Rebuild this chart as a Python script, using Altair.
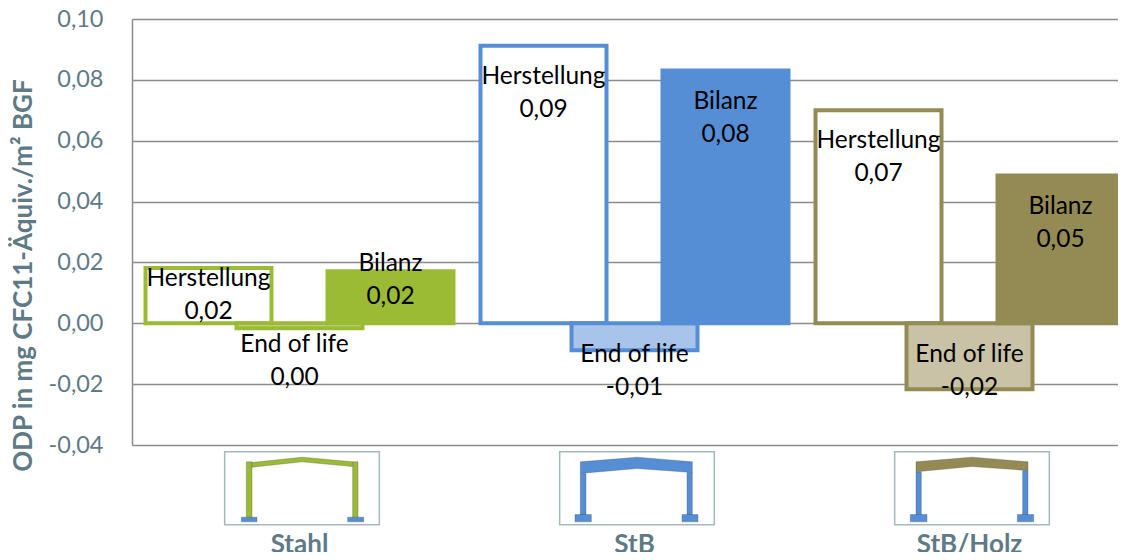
import altair as alt
import pandas as pd

groups = ["Stahl", "StB", "StB/Holz"]
series = ["Herstellung", "End of life", "Bilanz"]
stahl_values = [0.0182, -0.0016, 0.0171]
stb_values = [0.0912, -0.0089, 0.0831]
holz_values = [0.0700, -0.0217, 0.0486]
stahl_labels = ["0,02", "0,00", "0,02"]
stb_labels = ["0,09", "-0,01", "0,08"]
holz_labels = ["0,07", "-0,02", "0,05"]
y_ticks = [-0.04, -0.02, 0.0, 0.02, 0.04, 0.06, 0.08, 0.10]

strokes = ["#9BBB35", "#558ED5", "#948A54"]
fills = [["#FFFFFF", "#C3D69B", "#9BBB35"],
         ["#FFFFFF", "#A9C4EB", "#558ED5"],
         ["#FFFFFF", "#C9C2A6", "#948A54"]]
# offset of each label's first line from the end of its bar (px), per group and series
label_dy = [[11, 17, -7], [31, 5, 32], [31, -34, 32]]
label_dx = [[0, -5, 0], [0, 0, 0], [0, 0, 0]]

TEXT = "#5F7A87"
GRID = "#8C8C8C"
FONT = "Lato"
STEP = 335.0
SLOT = 91 / STEP
HALF = 63 / STEP
W, H = 986, 426

rows = []
for g, (vals, labs) in enumerate(zip([stahl_values, stb_values, holz_values],
                                     [stahl_labels, stb_labels, holz_labels])):
    for s in range(3):
        c = g + 0.5 + (s - 1) * SLOT
        rows.append(dict(group=groups[g], series=series[s], value=vals[s],
                         x0=c - HALF, x1=c + HALF, cx=c,
                         label=series[s] + "\n" + labs[s],
                         fill=fills[g][s], stroke=strokes[g],
                         dy=label_dy[g][s], dx=label_dx[g][s]))
df = pd.DataFrame(rows)
df["zero"] = 0.0
cat = pd.DataFrame(dict(group=groups, cx=[i + 0.5 for i in range(3)]))

xs = alt.Scale(domain=[0, W / STEP], nice=False, zero=False)
ys = alt.Scale(domain=[-0.04, 0.10], nice=False, zero=False)

base_y = alt.Y("value:Q", scale=ys, axis=alt.Axis(
    values=y_ticks, grid=True, gridColor=GRID, gridWidth=1.5, ticks=False,
    domain=True, domainColor=GRID, domainWidth=1.5,
    labelExpr="replace(replace(format(datum.value,'.2f'),'.',','),'\u2212','-')",
    labelFont=FONT, labelFontSize=23.5, labelColor=TEXT, labelPadding=29,
    title="ODP in mg CFC11-Äquiv./m² BGF", titleFont=FONT, titleFontSize=26,
    titleFontWeight="bold", titleColor=TEXT, titleX=-96, titleY=256,
    titleAlign="center", titleAnchor="middle"))

bars = alt.Chart(df).mark_rect(strokeWidth=4, clip=True).encode(
    x=alt.X("x0:Q", scale=xs, axis=None),
    x2="x1:Q",
    y=base_y,
    y2="zero:Q",
    fill=alt.Fill("fill:N", scale=None),
    stroke=alt.Stroke("stroke:N", scale=None),
)

layers = [bars]
for i in range(len(df)):
    r = df.iloc[i]
    layers.append(
        alt.Chart(df.iloc[[i]]).mark_text(
            font=FONT, fontSize=24.5, color="#000000", lineBreak="\n", lineHeight=33,
            baseline="middle", align="center", dy=int(r.dy), dx=int(r.dx)
        ).encode(
            x=alt.X("cx:Q", scale=xs, axis=None),
            y=alt.Y("value:Q", scale=ys),
            text="label:N",
        )
    )

SY = 469.5
BOX = "M-232,-110H232V109H-232Z"
C_STAHL_COL = "M-167,-80H-150V87H-167ZM152,-80H168V87H152Z"
C_STAHL_BASE = "M-182,86H-135V100H-182ZM137,86H185V100H137Z"
C_STAHL_ROOF = "M-150,-78L0,-94L152,-80V-66L0,-80L-150,-64Z"
C_STB_COL = "M-170,-45H-153V80H-170ZM150,-48H166V80H150Z"
C_STB_ROOF = "M-170,-80L0,-94L166,-80V-48L0,-60L-170,-45Z"
C_STB_BASE = "M-186,78H-137V100H-186ZM135,78H183V100H135Z"
C_HOLZ_COL = "M-168,-50H-152V80H-168ZM152,-54H168V80H152Z"
C_HOLZ_ROOF = "M-168,-80L0,-94L168,-80V-54L0,-66L-168,-50Z"
C_HOLZ_BASE = "M-185,78H-135V100H-185ZM136,78H185V100H136Z"
icon_parts = [
    (0, [(C_STAHL_COL, "#9BBB35"), (C_STAHL_ROOF, "#9BBB35"), (C_STAHL_BASE, "#558ED5")]),
    (1, [(C_STB_COL, "#558ED5"), (C_STB_ROOF, "#558ED5"), (C_STB_BASE, "#558ED5")]),
    (2, [(C_HOLZ_COL, "#558ED5"), (C_HOLZ_ROOF, "#948A54"), (C_HOLZ_BASE, "#558ED5")]),
]
ICON_OFFSET = 2.5 / STEP
for g, parts in icon_parts:
    d = cat.iloc[[g]].assign(ix=lambda t: t.cx + ICON_OFFSET)
    layers.append(alt.Chart(d).mark_point(
        shape=BOX, size=4 / 9, filled=False, stroke="#A3BABA", strokeWidth=1.5, opacity=1, clip=False
    ).encode(x=alt.X("ix:Q", scale=xs, axis=None), y=alt.value(SY)))
    for path, col in parts:
        layers.append(alt.Chart(d).mark_point(
            shape=path, size=4 / 9, filled=True, fill=col, stroke="#3A4A4A",
            strokeWidth=0.5, strokeOpacity=0.6, opacity=1, clip=False
        ).encode(x=alt.X("ix:Q", scale=xs, axis=None), y=alt.value(SY)))

layers.append(alt.Chart(cat).mark_text(
    font=FONT, fontSize=26, fontWeight="bold", color=TEXT, baseline="middle", clip=False
).encode(x=alt.X("cx:Q", scale=xs, axis=None), y=alt.value(526), text="group:N"))

chart = alt.layer(*layers).properties(
    width=W, height=H,
    autosize=alt.AutoSizeParams(type="none"),
    padding={"left": 124, "top": 11, "right": 0, "bottom": 107},
    background="#FFFFFF",
).configure_view(stroke=None)

chart.save("out.html", embed_options={"renderer": "svg", "actions": False})
